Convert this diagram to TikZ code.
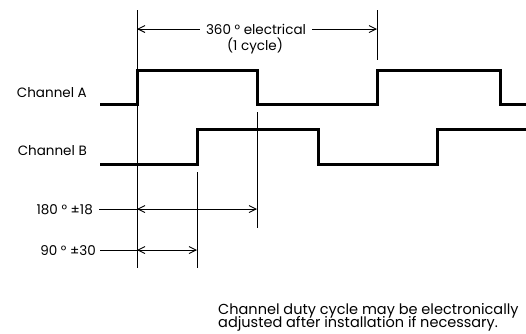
\documentclass[tikz,border=0pt]{standalone}
\usepackage{fontspec}
\setmainfont{Poppins}
\usetikzlibrary{arrows.meta}
\begin{document}
\begin{tikzpicture}[x=1pt,y=-1pt,
  wave/.style={line width=3pt,line join=miter},
  thin/.style={line width=0.9pt},
  dim/.style={line width=0.9pt,{Straight Barb[length=7pt,width=7pt]}-{Straight Barb[length=7pt,width=7pt]}},
  dimr/.style={line width=0.9pt,-{Straight Barb[length=7pt,width=7pt]}},
  lbl/.style={font=\fontsize{13.5}{14}\selectfont,inner sep=0pt},
  notelbl/.style={font=\fontsize{14.5}{15}\selectfont,inner sep=0pt}]
\useasboundingbox (0,0) rectangle (526,333);
% waveforms
\draw[wave] (100,104) -- (137,104) -- (137,70) -- (257,70) -- (257,104) -- (377,104) -- (377,70) -- (500,70) -- (500,104) -- (527,104);
\draw[wave] (100,164) -- (197,164) -- (197,129) -- (318,129) -- (318,164) -- (437,164) -- (437,129) -- (527,129);
% reference lines
\coordinate (t1) at (137,10);  \coordinate (b1) at (137,268);
\coordinate (t2) at (257,112); \coordinate (b2) at (257,228);
\coordinate (t3) at (197,172); \coordinate (b3) at (197,268);
\coordinate (t4) at (377,10);  \coordinate (b4) at (377,60);
\draw[thin] (t1) -- (b1);
\draw[thin] (t2) -- (b2);
\draw[thin] (t3) -- (b3);
\draw[thin] (t4) -- (b4);
% labels
\node[lbl,anchor=base east] (chA) at (87,97.5) {Channel A};
\node[lbl,anchor=base east] (chB) at (87,155) {Channel B};
% 360
\node[lbl,anchor=base] (e360) at (256,34) {360 ° electrical};
\node[lbl,anchor=base] (cyc) at (255,50) {(1 cycle)};
\coordinate (a1) at (137,29); \coordinate (a2) at (377,29);
\draw[dimr] (e360.west |- a1) ++(-6,0) -- (a1);
\draw[dimr] (e360.east |- a2) ++(6,0) -- (a2);
% 180
\node[lbl,anchor=base east] (d180) at (93,214) {180 ° ±18};
\coordinate (c1) at (137,209); \coordinate (c2) at (257,209);
\draw[thin] (d180.east |- c1) ++(6,0) -- (c1);
\draw[dim] (c1) -- (c2);
% 90
\node[lbl,anchor=base east] (d90) at (96,255) {90 ° ±30};
\coordinate (e1) at (137,250); \coordinate (e2) at (197,250);
\draw[thin] (d90.east |- e1) ++(4,0) -- (e1);
\draw[dim] (e1) -- (e2);
% note
\node[notelbl,anchor=base west] (note1) at (218,314) {Channel duty cycle may be electronically};
\node[notelbl,anchor=base west] (note2) at (218,327.5) {adjusted after installation if necessary.};
\end{tikzpicture}
\end{document}
